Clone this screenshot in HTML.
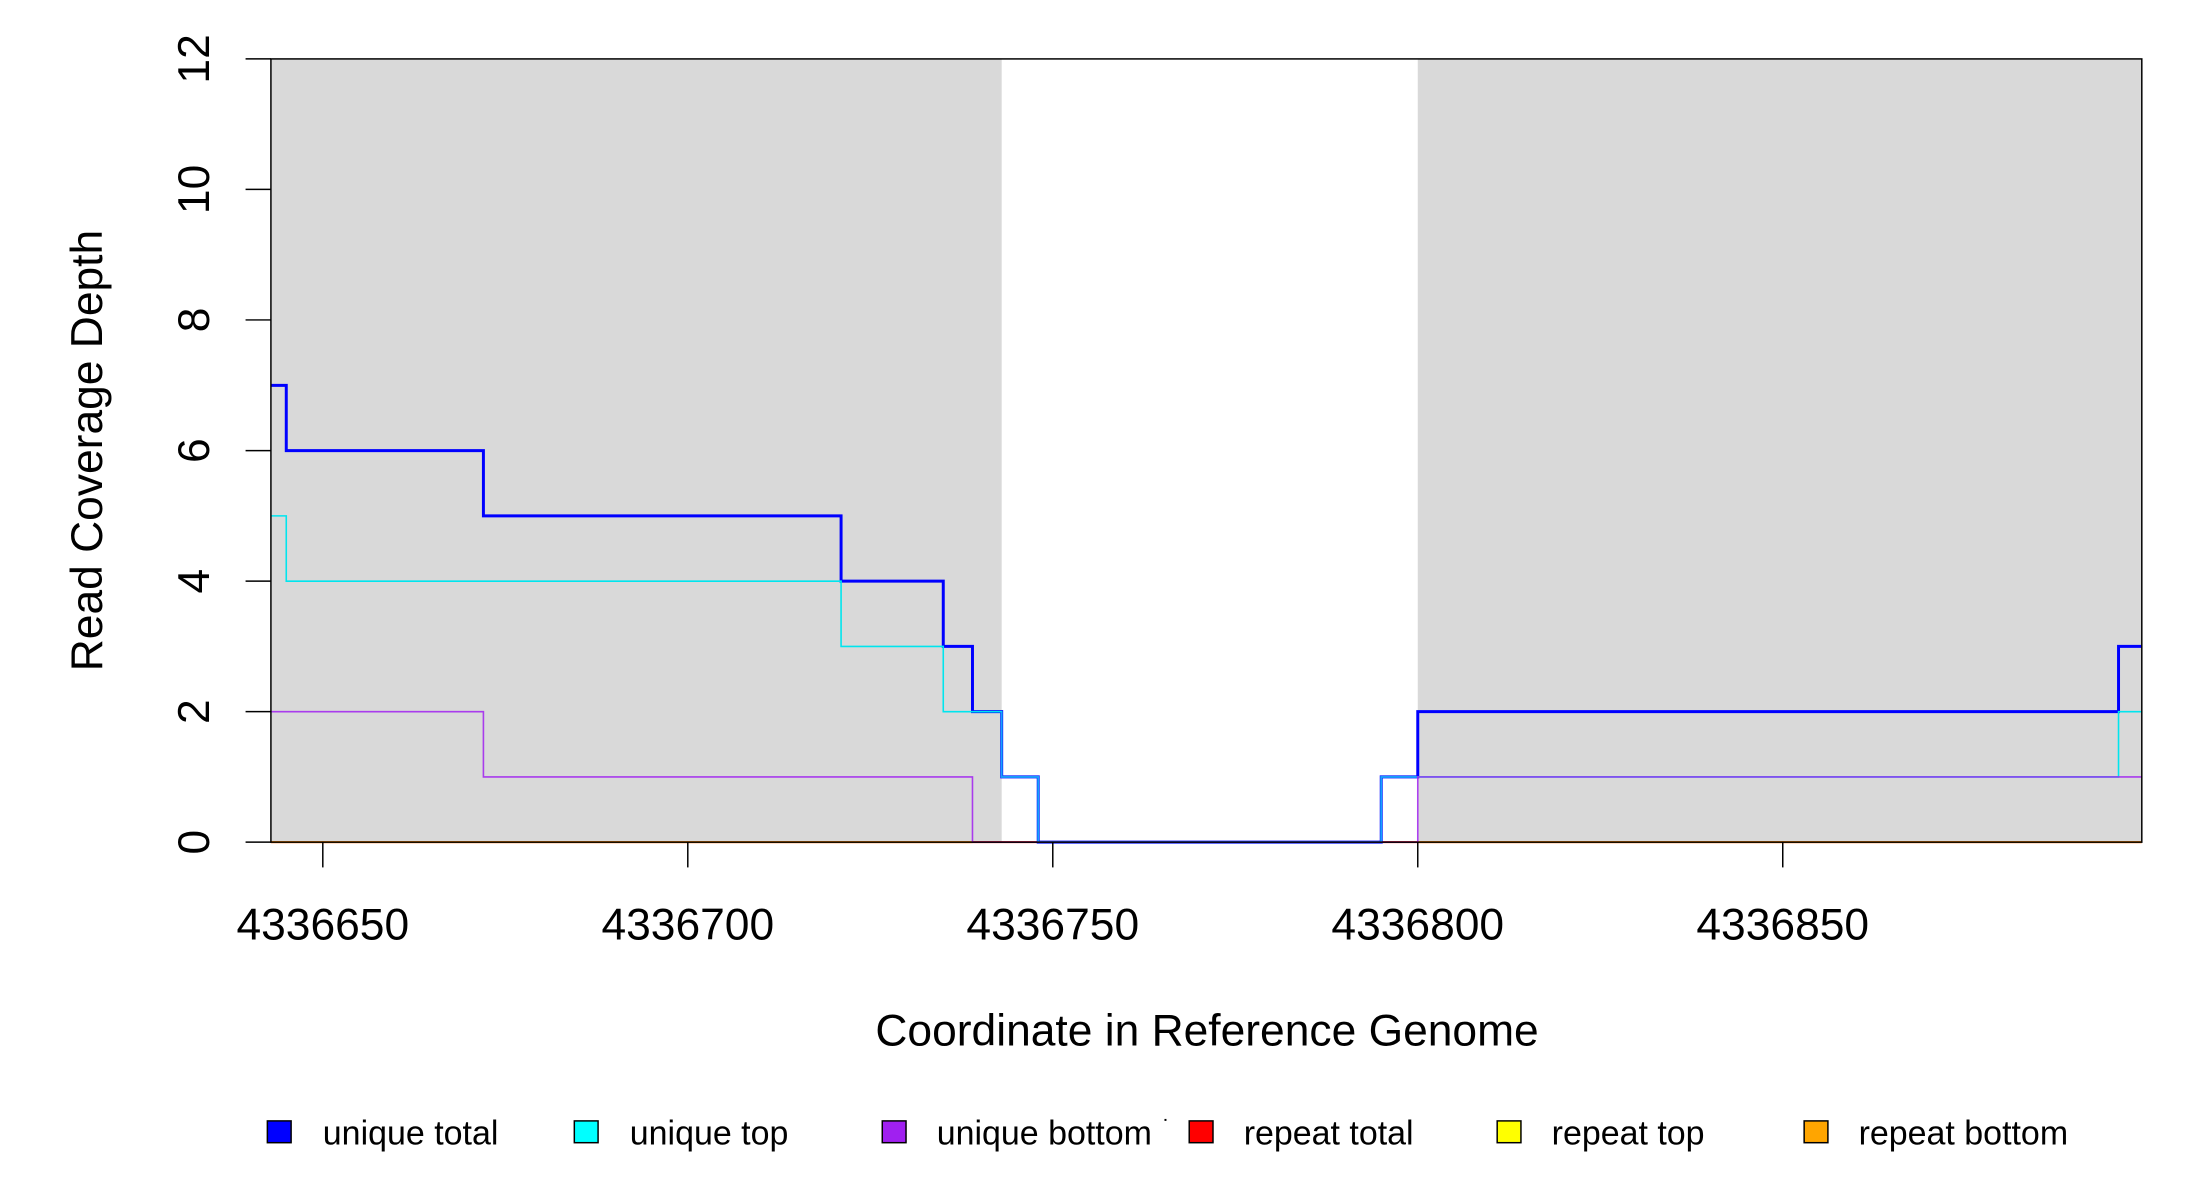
<!DOCTYPE html>
<html><head><meta charset="utf-8"><style>body{margin:0;background:#fff}svg{display:block}</style></head>
<body>
<svg width="2200" height="1200" xmlns="http://www.w3.org/2000/svg" font-family="Liberation Sans, Arial, sans-serif">
<rect x="0" y="0" width="2200" height="1200" fill="#fff"/>
<g transform="scale(0.9902)">
<rect x="273.6" y="59.5" width="738" height="791" fill="#d9d9d9"/>
<rect x="1431.8" y="59.5" width="731.2" height="791" fill="#d9d9d9"/>
<g fill="none" stroke-linejoin="miter">
<polyline stroke="#ff0000" stroke-width="2" points="273.6,850.5 2163,850.5"/>
<polyline stroke="#ffa500" stroke-width="2" points="273.6,850.5 982.1,850.5"/>
<polyline stroke="#ffa500" stroke-width="2" points="1431.8,850.5 2163,850.5"/>
<polyline stroke="#0000ff" stroke-width="3" points="273.6,389.2 289.1,389.2 289.1,455.1 488.2,455.1 488.2,521 849.4,521 849.4,586.9 952.6,586.9 952.6,652.8 982.1,652.8 982.1,718.7 1011.6,718.7 1011.6,784.6 1048.5,784.6 1048.5,850.5 1394.9,850.5 1394.9,784.6 1431.8,784.6 1431.8,718.7 2139.5,718.7 2139.5,652.8 2163,652.8"/>
<polyline stroke="#00e5ee" stroke-width="1.6" points="273.6,521 289.1,521 289.1,586.9 849.4,586.9 849.4,652.8 952.6,652.8 952.6,718.7 1011.6,718.7 1011.6,784.6 1048.5,784.6 1048.5,850.5 1394.9,850.5 1394.9,784.6 1431.8,784.6 2139.5,784.6 2139.5,718.7 2163,718.7"/>
<polyline stroke="#1e90ff" stroke-width="2" stroke-opacity="0.8" points="1011.6,718.7 1011.6,784.6 1048.5,784.6 1048.5,850.5 1394.9,850.5 1394.9,784.6 1431.8,784.6"/>
<polyline stroke="#a020f0" stroke-width="1.6" stroke-opacity="0.85" points="273.6,718.7 488.2,718.7 488.2,784.6 982.1,784.6 982.1,850.5 1431.8,850.5 1431.8,784.6 2163,784.6"/>
</g>
<rect x="273.6" y="59.5" width="1889.4" height="791" fill="none" stroke="#000" stroke-width="1.5"/>
<g stroke="#000" stroke-width="1.5">
<line x1="248" y1="59.5" x2="273.6" y2="59.5"/>
<line x1="248" y1="191.3" x2="273.6" y2="191.3"/>
<line x1="248" y1="323.1" x2="273.6" y2="323.1"/>
<line x1="248" y1="455.1" x2="273.6" y2="455.1"/>
<line x1="248" y1="586.9" x2="273.6" y2="586.9"/>
<line x1="248" y1="718.7" x2="273.6" y2="718.7"/>
<line x1="248" y1="850.5" x2="273.6" y2="850.5"/>
<line x1="326" y1="850.5" x2="326" y2="876"/>
<line x1="694.6" y1="850.5" x2="694.6" y2="876"/>
<line x1="1063.2" y1="850.5" x2="1063.2" y2="876"/>
<line x1="1431.8" y1="850.5" x2="1431.8" y2="876"/>
<line x1="1800.4" y1="850.5" x2="1800.4" y2="876"/>
</g>
<g font-size="44.8" text-anchor="middle" fill="#000">
<text transform="translate(211,59.5) rotate(-90)">12</text>
<text transform="translate(211,191.3) rotate(-90)">10</text>
<text transform="translate(211,323.1) rotate(-90)">8</text>
<text transform="translate(211,455.1) rotate(-90)">6</text>
<text transform="translate(211,586.9) rotate(-90)">4</text>
<text transform="translate(211,718.7) rotate(-90)">2</text>
<text transform="translate(211,850.5) rotate(-90)">0</text>
<text x="326" y="949">4336650</text>
<text x="694.6" y="949">4336700</text>
<text x="1063.2" y="949">4336750</text>
<text x="1431.8" y="949">4336800</text>
<text x="1800.4" y="949">4336850</text>
<text x="1219" y="1056">Coordinate in Reference Genome</text>
<text transform="translate(103,455) rotate(-90)">Read Coverage Depth</text>
</g>
<g stroke="#000" stroke-width="1.5">
<rect x="270" y="1132" width="24" height="22" fill="#0000ff"/>
<rect x="580" y="1132" width="24" height="22" fill="#00ffff"/>
<rect x="891" y="1132" width="24" height="22" fill="#a020f0"/>
<rect x="1201" y="1132" width="24" height="22" fill="#ff0000"/>
<rect x="1512" y="1132" width="24" height="22" fill="#ffff00"/>
<rect x="1822" y="1132" width="24" height="22" fill="#ffa500"/>
</g>
<g font-size="34.3" fill="#000">
<text x="326" y="1156">unique total</text>
<text x="636" y="1156">unique top</text>
<text x="946" y="1156">unique bottom</text>
<text x="1256" y="1156">repeat total</text>
<text x="1567" y="1156">repeat top</text>
<text x="1877" y="1156">repeat bottom</text>
</g>
<rect x="1176" y="1130" width="2" height="2" fill="#000"/>
</g>
</svg>
</body></html>
